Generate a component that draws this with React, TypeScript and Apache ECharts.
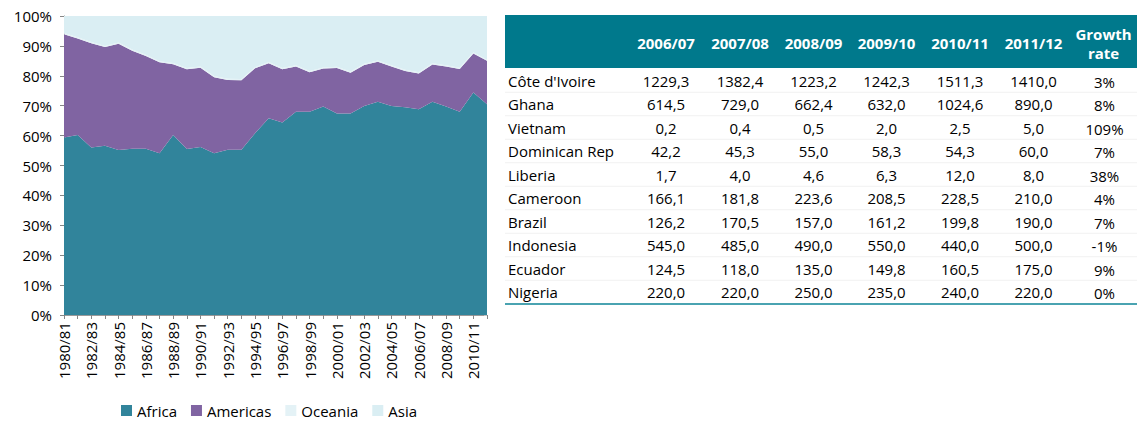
import React, { useEffect, useRef } from "react";
import * as echarts from "echarts";

const seasons = [
  "1980/81", "1981/82", "1982/83", "1983/84", "1984/85", "1985/86", "1986/87", "1987/88",
  "1988/89", "1989/90", "1990/91", "1991/92", "1992/93", "1993/94", "1994/95", "1995/96",
  "1996/97", "1997/98", "1998/99", "1999/00", "2000/01", "2001/02", "2002/03", "2003/04",
  "2004/05", "2005/06", "2006/07", "2007/08", "2008/09", "2009/10", "2010/11", "2011/12",
];
const africa = [
  59.4, 60.2, 56.0, 56.6, 55.2, 55.6, 55.6, 54.1, 60.2, 55.5, 56.2, 54.1, 55.3, 55.3, 60.8, 65.8,
  64.4, 68.0, 68.0, 69.7, 67.4, 67.4, 69.9, 71.3, 69.9, 69.5, 68.8, 71.3, 69.7, 68.0, 74.4, 70.5,
];
const americas = [
  34.5, 32.3, 34.9, 33.0, 35.5, 32.8, 31.0, 30.4, 23.7, 26.7, 26.5, 25.4, 23.3, 23.2, 21.7, 18.4,
  17.8, 15.1, 13.2, 12.7, 15.2, 13.6, 13.7, 13.4, 13.2, 12.1, 12.0, 12.5, 13.4, 14.3, 13.1, 14.5,
];
const oceania = [
  0.4, 0.4, 0.4, 0.4, 0.4, 0.4, 0.4, 0.4, 0.4, 0.4, 0.4, 0.4, 0.4, 0.4, 0.4, 0.4,
  0.4, 0.4, 0.4, 0.4, 0.4, 0.4, 0.4, 0.4, 0.4, 0.4, 0.4, 0.4, 0.4, 0.4, 0.4, 0.4,
];
const asia = [
  5.7, 7.1, 8.7, 10.0, 8.9, 11.2, 13.0, 15.1, 15.7, 17.4, 16.9, 20.1, 21.0, 21.1, 17.1, 15.4,
  17.4, 16.5, 18.4, 17.2, 17.0, 18.6, 16.0, 14.9, 16.5, 18.0, 18.8, 15.8, 16.5, 17.3, 12.1, 14.6,
];

const tableCountries = [
  "Côte d'Ivoire", "Ghana", "Vietnam", "Dominican Rep", "Liberia",
  "Cameroon", "Brazil", "Indonesia", "Ecuador", "Nigeria",
];
const tableYears = ["2006/07", "2007/08", "2008/09", "2009/10", "2010/11", "2011/12"];
const v200607 = [1229.3, 614.5, 0.2, 42.2, 1.7, 166.1, 126.2, 545.0, 124.5, 220.0];
const v200708 = [1382.4, 729.0, 0.4, 45.3, 4.0, 181.8, 170.5, 485.0, 118.0, 220.0];
const v200809 = [1223.2, 662.4, 0.5, 55.0, 4.6, 223.6, 157.0, 490.0, 135.0, 250.0];
const v200910 = [1242.3, 632.0, 2.0, 58.3, 6.3, 208.5, 161.2, 550.0, 149.8, 235.0];
const v201011 = [1511.3, 1024.6, 2.5, 54.3, 12.0, 228.5, 199.8, 440.0, 160.5, 240.0];
const v201112 = [1410.0, 890.0, 5.0, 60.0, 8.0, 210.0, 190.0, 500.0, 175.0, 220.0];
const growthRate = ["3%", "8%", "109%", "7%", "38%", "4%", "7%", "-1%", "9%", "0%"];

const FONT = "'Open Sans', 'Noto Sans', sans-serif";
const COLORS = { africa: "#31849B", americas: "#8064A2", oceania: "#E4F2F6", asia: "#DAEEF3" };

function fmt(v: number) {
  return v.toFixed(1).replace(".", ",");
}

function buildTable() {
  const els: any[] = [];
  const left = 505;
  const right = 1137;
  const top = 15;
  const headerH = 53;
  const colEdges = [629, 703, 777, 850, 923, 997, 1070, right];
  const rowH = 23.5;
  const firstRowCenter = 80.5;
  const yearCols = [v200607, v200708, v200809, v200910, v201011, v201112];

  els.push({
    type: "rect",
    shape: { x: left, y: top, width: right - left, height: headerH },
    style: { fill: "#00798C" },
  });
  tableYears.forEach((y, i) => {
    els.push({
      type: "text",
      x: (colEdges[i] + colEdges[i + 1]) / 2,
      y: top + 28,
      style: { text: y, fill: "#ffffff", font: `bold 15px ${FONT}`, align: "center", verticalAlign: "middle" },
    });
  });
  els.push({
    type: "text",
    x: (colEdges[6] + colEdges[7]) / 2,
    y: top + 28,
    style: {
      text: "Growth\nrate",
      fill: "#ffffff",
      font: `bold 15px ${FONT}`,
      lineHeight: 19,
      align: "center",
      verticalAlign: "middle",
    },
  });

  tableCountries.forEach((c, r) => {
    const cy = firstRowCenter + r * rowH;
    if (r > 0) {
      els.push({
        type: "line",
        shape: { x1: left, y1: cy - rowH / 2, x2: right, y2: cy - rowH / 2 },
        style: { stroke: "#f1f1f1", lineWidth: 1 },
      });
    }
    els.push({
      type: "text",
      x: left + 3,
      y: cy,
      style: { text: c, fill: "#000", font: `15px ${FONT}`, align: "left", verticalAlign: "middle" },
    });
    yearCols.forEach((col, i) => {
      els.push({
        type: "text",
        x: (colEdges[i] + colEdges[i + 1]) / 2,
        y: cy,
        style: { text: fmt(col[r]), fill: "#000", font: `15px ${FONT}`, align: "center", verticalAlign: "middle" },
      });
    });
    els.push({
      type: "text",
      x: (colEdges[6] + colEdges[7]) / 2 + 1,
      y: cy + 1,
      style: { text: growthRate[r], fill: "#000", font: `15px ${FONT}`, align: "center", verticalAlign: "middle" },
    });
  });

  const bottom = firstRowCenter + (tableCountries.length - 1) * rowH + 12;
  els.push({
    type: "line",
    shape: { x1: left, y1: bottom, x2: right, y2: bottom },
    style: { stroke: "#4AA3B1", lineWidth: 2 },
  });
  return els;
}

function areaSeries(name: string, data: number[], color: string) {
  return {
    name,
    type: "line",
    stack: "total",
    data,
    symbol: "none",
    lineStyle: { width: 0 },
    itemStyle: { color },
    areaStyle: { color, opacity: 1 },
  };
}

export default function App() {
  const ref = useRef<HTMLDivElement>(null);
  useEffect(() => {
    if (!ref.current) return;
    const chart = echarts.init(ref.current, undefined, { renderer: "svg" });
    chart.setOption({
      animation: false,
      textStyle: { fontFamily: FONT },
      grid: { left: 64, right: 652, top: 16, bottom: 106 },
      legend: {
        left: 116,
        top: 398,
        icon: "rect",
        itemWidth: 11,
        itemHeight: 11,
        itemGap: 14,
        textStyle: { fontSize: 15, color: "#000", fontFamily: FONT },
        data: ["Africa", "Americas", "Oceania", "Asia"],
      },
      xAxis: [
        {
          type: "category",
          data: seasons,
          boundaryGap: false,
          axisLine: { show: true, lineStyle: { color: "#868686" } },
          axisTick: { show: true, interval: 0, length: 4, lineStyle: { color: "#868686" } },
          axisLabel: { interval: 1, rotate: 90, fontSize: 15, color: "#000", margin: 7, fontFamily: FONT },
          splitLine: { show: false },
        },
        {
          type: "category",
          data: seasons,
          position: "top",
          boundaryGap: false,
          axisLine: { show: true, lineStyle: { color: "#9a9a9a" } },
          axisTick: { show: false },
          axisLabel: { show: false },
        },
      ],
      yAxis: [
        {
          type: "value",
          min: 0,
          max: 100,
          interval: 10,
          axisLine: { show: true, lineStyle: { color: "#868686" } },
          axisTick: { show: true, length: 4, lineStyle: { color: "#868686" } },
          axisLabel: { formatter: "{value}%", fontSize: 15, color: "#000", margin: 12, fontFamily: FONT },
          splitLine: { show: false },
        },
        {
          type: "value",
          min: 0,
          max: 100,
          interval: 10,
          position: "right",
          axisLine: { show: false },
          axisTick: { show: true, inside: true, length: 3, lineStyle: { color: "#c0c0c0" } },
          axisLabel: { show: false },
          splitLine: { show: false },
        },
      ],
      series: [
        areaSeries("Africa", africa, COLORS.africa),
        areaSeries("Americas", americas, COLORS.americas),
        areaSeries("Oceania", oceania, COLORS.oceania),
        areaSeries("Asia", asia, COLORS.asia),
      ],
      graphic: buildTable(),
    });
    return () => chart.dispose();
  }, []);
  return (
    <div
      ref={ref}
      style={{ position: "absolute", left: 0, top: 0, width: 1139, height: 421, background: "#fff" }}
    />
  );
}
